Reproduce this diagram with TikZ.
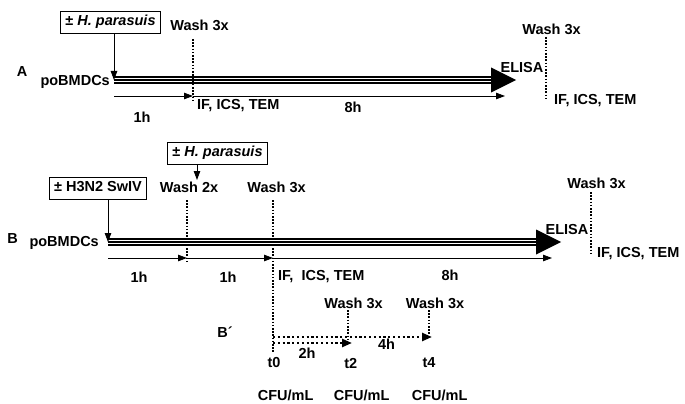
\documentclass[tikz,border=0pt]{standalone}
\usepackage{fontspec}
\setmainfont{Liberation Sans}
\usetikzlibrary{arrows.meta}
\begin{document}
\begin{tikzpicture}[x=1pt,y=-1pt,
    lbl/.style={font=\fontsize{14.5}{16}\selectfont\bfseries,inner sep=0pt},
    boxlbl/.style={lbl,draw,line width=0.8pt,inner xsep=5pt,inner ysep=4.5pt,text height=10pt,text depth=3pt},
    dots/.style={line width=1.8pt,dash pattern=on 1.6pt off 1.6pt},
    bdots/.style={line width=2.4pt,dash pattern=on 2.2pt off 2.6pt},
    tri/.style={line width=1.5pt},
    tarrow/.style={line width=0.8pt,-{Triangle[length=9pt,width=6.5pt]}},
    dotarrow/.style={bdots,-{Triangle[length=10pt,width=8pt]}}]
    \useasboundingbox (0,0) rectangle (685,404);
    
    % Panel A
    \node[lbl] (labA) at (22,72) {A};
    \node[boxlbl] (hpA) at (110.5,22.5) {± \textit{H. parasuis}};
    \node[lbl,anchor=east] (cellA) at (110,82) {poBMDCs};
    \coordinate (a0) at (114,80);
    \coordinate (a1) at (491,80);
    \foreach \d in {-3,0,3}
    \draw[tri] ([yshift=\d pt]a0) -- ([yshift=\d pt]a1);
    \fill (a1) ++(0,-12.5) -- ++(25,12.5) -- ++(-25,12.5) -- cycle;
    \draw[tarrow] (hpA.south -| a0) -- (a0);
    % washes A
    \node[lbl] (washA1) at (199.5,25) {Wash 3x};
    \coordinate (wA1t) at (193,39);
    \coordinate (wA1b) at (193,100);
    \draw[dots] (wA1t) -- (wA1b);
    \node[lbl] (washA2) at (551.5,29) {Wash 3x};
    \coordinate (wA2t) at (546,37);
    \coordinate (wA2b) at (546,98);
    \draw[dots] (wA2t) -- (wA2b);
    \node[lbl] (elisaA) at (522,68) {ELISA};
    % time arrows A
    \coordinate (ta0) at (114,96);
    \coordinate (ta1) at (193,96);
    \coordinate (ta2) at (505,96);
    \draw[tarrow] (ta0) -- (ta1);
    \draw[tarrow] (ta1) -- (ta2);
    \node[lbl] (hA1) at (142,117) {1h};
    \node[lbl] (hA2) at (353,107) {8h};
    \node[lbl,anchor=west] (ifA1) at (197,106) {IF, ICS, TEM};
    \node[lbl,anchor=west] (ifA2) at (554,101) {IF, ICS, TEM};
    
    % Panel B
    \node[lbl] (labB) at (12.7,239) {B};
    \node[boxlbl] (hpB) at (217.5,153) {± \textit{H. parasuis}};
    \node[boxlbl] (swiv) at (98,188) {± H3N2 SwIV};
    \node[lbl,anchor=east] (cellB) at (99,243) {poBMDCs};
    \coordinate (b0) at (108,242);
    \coordinate (b1) at (536,242);
    \foreach \d in {-3,0,3}
    \draw[tri] ([yshift=\d pt]b0) -- ([yshift=\d pt]b1);
    \fill (b1) ++(0,-12.5) -- ++(25,12.5) -- ++(-25,12.5) -- cycle;
    \draw[tarrow] (swiv.south -| b0) -- (b0);
    \coordinate (hpBin) at (197,180);
    \draw[tarrow] (hpB.south -| hpBin) -- (hpBin);
    % washes B
    \node[lbl] (washB1) at (189,187) {Wash 2x};
    \node[lbl] (washB2) at (276.5,187) {Wash 3x};
    \node[lbl] (washB3) at (596.5,183) {Wash 3x};
    \coordinate (wB1t) at (187,200);
    \coordinate (wB1b) at (187,263);
    \coordinate (wB2t) at (273,200);
    \coordinate (wB2b) at (273,352);
    \coordinate (wB3t) at (591,192);
    \coordinate (wB3b) at (591,253);
    \draw[dots] (wB1t) -- (wB1b);
    \draw[dots] (wB2t) -- (wB2b);
    \draw[dots] (wB3t) -- (wB3b);
    \node[lbl] (elisaB) at (567,230) {ELISA};
    % time arrows B
    \coordinate (tb0) at (108,258);
    \coordinate (tb1) at (187,258);
    \coordinate (tb2) at (273,258);
    \coordinate (tb3) at (552,258);
    \draw[tarrow] (tb0) -- (tb1);
    \draw[tarrow] (tb1) -- (tb2);
    \draw[tarrow] (tb2) -- (tb3);
    \node[lbl] (hB1) at (139,277) {1h};
    \node[lbl] (hB2) at (228,277) {1h};
    \node[lbl] (hB3) at (450,275) {8h};
    \node[lbl,anchor=west] (ifB1) at (278,277) {IF,\ \ ICS, TEM};
    \node[lbl,anchor=west] (ifB2) at (597,254) {IF, ICS, TEM};
    
    % Panel B'
    \node[lbl] (labBp) at (225,332) {B´};
    \coordinate (c0u) at (273,337);
    \coordinate (c0l) at (273,343);
    \coordinate (c2) at (352,343);
    \coordinate (c4) at (432,337);
    \draw[dotarrow] (c0l) -- (c2);
    \draw[dotarrow] (c0u) -- (c4);
    \node[lbl] (washC1) at (353.5,303) {Wash 3x};
    \node[lbl] (washC2) at (435,303) {Wash 3x};
    \coordinate (wC1t) at (348,310);
    \coordinate (wC1b) at (348,343);
    \coordinate (wC2t) at (429,310);
    \coordinate (wC2b) at (429,337);
    \draw[dots] (wC1t) -- (wC1b);
    \draw[dots] (wC2t) -- (wC2b);
    \node[lbl] (h2) at (307,353) {2h};
    \node[lbl] (h4) at (386.5,344) {4h};
    \node[lbl] (t0) at (274,363) {t0};
    \node[lbl] (t2) at (350.7,363) {t2};
    \node[lbl] (t4) at (429,363) {t4};
    \foreach \x/\n in {285.6/1,361.7/2,439.7/3}
    \node[lbl] (cfu\n) at (\x,395) {CFU/mL};
\end{tikzpicture}
\end{document}
